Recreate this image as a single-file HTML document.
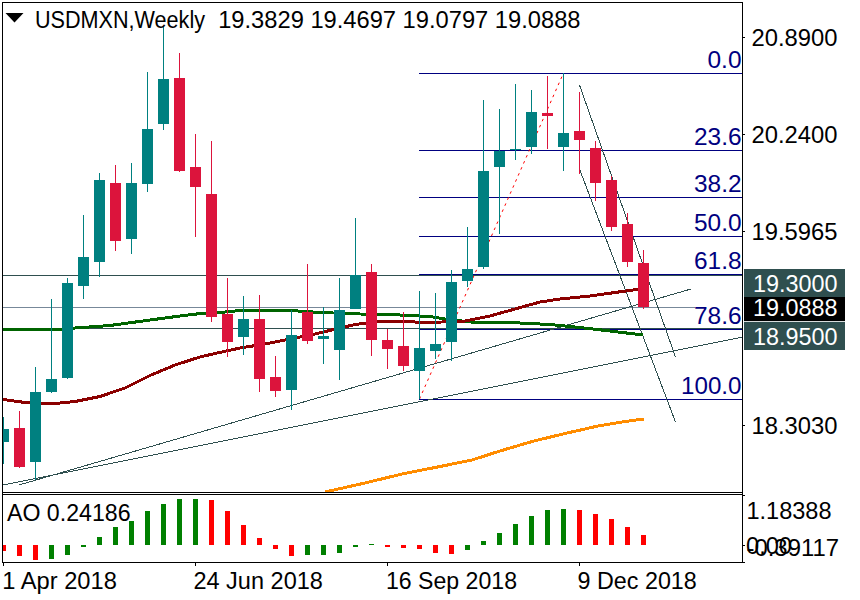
<!DOCTYPE html>
<html><head><meta charset="utf-8"><title>USDMXN Weekly</title>
<style>
html,body{margin:0;padding:0;background:#fff;}
body{width:860px;height:600px;overflow:hidden;position:relative;}
svg{position:absolute;left:0;top:0;display:block;}
text{font-family:"Liberation Sans",sans-serif;}
</style></head><body>
<svg width="860" height="600" viewBox="0 0 860 600">
<rect x="0" y="0" width="860" height="600" fill="#fff"/>
<defs><clipPath id="mc"><rect x="3" y="3" width="739" height="489"/></clipPath></defs>

<g clip-path="url(#mc)">
<g shape-rendering="crispEdges">
<rect x="3" y="275" width="739" height="1" fill="#2F4F4F"/>
<rect x="3" y="307" width="692" height="1" fill="#778899"/>
<rect x="3" y="328" width="739" height="1" fill="#2F4F4F"/>
<rect x="419" y="73" width="323" height="1" fill="#000080"/>
<rect x="419" y="150" width="323" height="1" fill="#000080"/>
<rect x="419" y="197" width="323" height="1" fill="#000080"/>
<rect x="419" y="236" width="323" height="1" fill="#000080"/>
<rect x="419" y="274" width="323" height="1" fill="#000080"/>
<rect x="419" y="329" width="323" height="1" fill="#000080"/>
<rect x="419" y="399" width="323" height="1" fill="#000080"/>
</g>
<g stroke="#2F4F4F" stroke-width="1" fill="none" shape-rendering="crispEdges">
<line x1="3" y1="485" x2="742" y2="337.3"/>
<line x1="19" y1="485" x2="691" y2="289"/>
<line x1="579.5" y1="85" x2="675.5" y2="357"/>
<line x1="579.5" y1="169" x2="675.5" y2="422"/>
</g>
<line x1="419.5" y1="399" x2="563.5" y2="73" stroke="#FF0000" stroke-width="1" stroke-dasharray="2.6,4"/>
<polyline points="325,492 365,483 402,474 440,466.5 472,460 500,451 532,441.5 565,433.5 598,426 625,421.5 644,419" fill="none" stroke="#FF8C00" stroke-width="3" stroke-linejoin="round" shape-rendering="crispEdges"/>
<polyline points="3,329.8 60,329.8 75,328 110,325.5 150,320 180,316 205,313 215,313 240,310.5 290,310.5 320,312.5 360,314 380,314.5 400,315 430,316.5 445,319 470,322 520,323 550,324.5 580,327.5 610,331 643,335" fill="none" stroke="#006400" stroke-width="3" stroke-linejoin="round" shape-rendering="crispEdges"/>
<polyline points="3,399.5 25,402.5 50,404 75,401.5 100,396.5 125,388 150,375.5 175,365 200,357 215,353.5 240,348 265,344 290,339 315,334 340,328 355,324.5 380,321.5 400,321.5 430,322.5 465,321 490,316 515,309 540,302 560,299 590,296 615,292.5 637,289.5 643,289" fill="none" stroke="#8B0000" stroke-width="3" stroke-linejoin="round" shape-rendering="crispEdges"/>
<g shape-rendering="crispEdges">
<rect x="3" y="417" width="1" height="47" fill="#008080"/>
<rect x="-2" y="429" width="11" height="13" fill="#008080"/>
<rect x="19" y="411" width="1" height="57" fill="#DC143C"/>
<rect x="14" y="428" width="11" height="39" fill="#DC143C"/>
<rect x="35" y="367" width="1" height="113" fill="#008080"/>
<rect x="30" y="392" width="11" height="70" fill="#008080"/>
<rect x="51" y="299" width="1" height="94" fill="#008080"/>
<rect x="46" y="379" width="11" height="13" fill="#008080"/>
<rect x="67" y="278" width="1" height="101" fill="#008080"/>
<rect x="62" y="283" width="11" height="95" fill="#008080"/>
<rect x="83" y="215" width="1" height="84" fill="#008080"/>
<rect x="78" y="257" width="11" height="29" fill="#008080"/>
<rect x="99" y="173" width="1" height="104" fill="#008080"/>
<rect x="94" y="180" width="11" height="82" fill="#008080"/>
<rect x="115" y="165" width="1" height="86" fill="#DC143C"/>
<rect x="110" y="183" width="11" height="58" fill="#DC143C"/>
<rect x="131" y="163" width="1" height="91" fill="#008080"/>
<rect x="126" y="183" width="11" height="56" fill="#008080"/>
<rect x="147" y="72" width="1" height="120" fill="#008080"/>
<rect x="142" y="129" width="11" height="55" fill="#008080"/>
<rect x="163" y="27" width="1" height="103" fill="#008080"/>
<rect x="158" y="79" width="11" height="45" fill="#008080"/>
<rect x="179" y="53" width="1" height="119" fill="#DC143C"/>
<rect x="174" y="78" width="11" height="93" fill="#DC143C"/>
<rect x="195" y="134" width="1" height="103" fill="#DC143C"/>
<rect x="190" y="167" width="11" height="20" fill="#DC143C"/>
<rect x="211" y="141" width="1" height="181" fill="#DC143C"/>
<rect x="206" y="194" width="11" height="123" fill="#DC143C"/>
<rect x="227" y="278" width="1" height="79" fill="#DC143C"/>
<rect x="222" y="314" width="11" height="28" fill="#DC143C"/>
<rect x="243" y="296" width="1" height="59" fill="#008080"/>
<rect x="238" y="319" width="11" height="18" fill="#008080"/>
<rect x="259" y="295" width="1" height="97" fill="#DC143C"/>
<rect x="254" y="319" width="11" height="60" fill="#DC143C"/>
<rect x="275" y="356" width="1" height="41" fill="#DC143C"/>
<rect x="270" y="377" width="11" height="14" fill="#DC143C"/>
<rect x="291" y="310" width="1" height="100" fill="#008080"/>
<rect x="286" y="335" width="11" height="55" fill="#008080"/>
<rect x="307" y="264" width="1" height="80" fill="#DC143C"/>
<rect x="302" y="312" width="11" height="29" fill="#DC143C"/>
<rect x="323" y="307" width="1" height="57" fill="#008080"/>
<rect x="318" y="336" width="11" height="3" fill="#008080"/>
<rect x="339" y="278" width="1" height="102" fill="#008080"/>
<rect x="334" y="310" width="11" height="40" fill="#008080"/>
<rect x="355" y="218" width="1" height="91" fill="#008080"/>
<rect x="350" y="275" width="11" height="34" fill="#008080"/>
<rect x="371" y="264" width="1" height="92" fill="#DC143C"/>
<rect x="366" y="272" width="11" height="68" fill="#DC143C"/>
<rect x="387" y="329" width="1" height="40" fill="#DC143C"/>
<rect x="382" y="340" width="11" height="9" fill="#DC143C"/>
<rect x="403" y="312" width="1" height="59" fill="#DC143C"/>
<rect x="398" y="346" width="11" height="20" fill="#DC143C"/>
<rect x="419" y="291" width="1" height="108" fill="#008080"/>
<rect x="414" y="348" width="11" height="23" fill="#008080"/>
<rect x="435" y="293" width="1" height="66" fill="#008080"/>
<rect x="430" y="344" width="11" height="7" fill="#008080"/>
<rect x="451" y="270" width="1" height="91" fill="#008080"/>
<rect x="446" y="282" width="11" height="60" fill="#008080"/>
<rect x="467" y="227" width="1" height="60" fill="#008080"/>
<rect x="462" y="269" width="11" height="12" fill="#008080"/>
<rect x="483" y="100" width="1" height="169" fill="#008080"/>
<rect x="478" y="171" width="11" height="96" fill="#008080"/>
<rect x="499" y="109" width="1" height="125" fill="#008080"/>
<rect x="494" y="151" width="11" height="16" fill="#008080"/>
<rect x="515" y="84" width="1" height="76" fill="#008080"/>
<rect x="510" y="149" width="11" height="1" fill="#008080"/>
<rect x="531" y="90" width="1" height="64" fill="#008080"/>
<rect x="526" y="112" width="11" height="35" fill="#008080"/>
<rect x="547" y="76" width="1" height="73" fill="#DC143C"/>
<rect x="542" y="113" width="11" height="3" fill="#DC143C"/>
<rect x="563" y="73" width="1" height="98" fill="#008080"/>
<rect x="558" y="133" width="11" height="14" fill="#008080"/>
<rect x="579" y="92" width="1" height="82" fill="#DC143C"/>
<rect x="574" y="131" width="11" height="9" fill="#DC143C"/>
<rect x="595" y="141" width="1" height="60" fill="#DC143C"/>
<rect x="590" y="148" width="11" height="35" fill="#DC143C"/>
<rect x="611" y="176" width="1" height="55" fill="#DC143C"/>
<rect x="606" y="180" width="11" height="47" fill="#DC143C"/>
<rect x="627" y="213" width="1" height="54" fill="#DC143C"/>
<rect x="622" y="224" width="11" height="38" fill="#DC143C"/>
<rect x="643" y="250" width="1" height="59" fill="#DC143C"/>
<rect x="638" y="263" width="11" height="44" fill="#DC143C"/>
</g>
</g>
<g shape-rendering="crispEdges" fill="#000">
<rect x="2" y="2" width="741" height="1"/>
<rect x="2" y="2" width="1" height="561"/>
<rect x="742" y="2" width="1" height="561"/>
<rect x="2" y="492" width="741" height="1"/>
<rect x="2" y="494" width="741" height="1"/>
<rect x="2" y="562" width="743" height="1"/>
<rect x="743" y="37" width="2" height="1"/>
<rect x="743" y="134" width="2" height="1"/>
<rect x="743" y="231" width="2" height="1"/>
<rect x="743" y="425" width="2" height="1"/>
<rect x="743" y="545" width="2" height="1"/>
<rect x="743" y="495" width="2" height="1"/>
<rect x="3" y="563" width="1" height="3"/>
<rect x="195" y="563" width="1" height="3"/>
<rect x="387" y="563" width="1" height="3"/>
<rect x="579" y="563" width="1" height="3"/>
</g>
<g shape-rendering="crispEdges">
<rect x="3" y="545" width="3" height="6" fill="#FF0000"/>
<rect x="17" y="545" width="5" height="11" fill="#FF0000"/>
<rect x="33" y="545" width="5" height="15" fill="#FF0000"/>
<rect x="49" y="545" width="5" height="14" fill="#008000"/>
<rect x="65" y="545" width="5" height="10" fill="#008000"/>
<rect x="81" y="545" width="5" height="2" fill="#008000"/>
<rect x="97" y="537" width="5" height="8" fill="#008000"/>
<rect x="113" y="527" width="5" height="18" fill="#008000"/>
<rect x="129" y="521" width="5" height="24" fill="#008000"/>
<rect x="145" y="511" width="5" height="34" fill="#008000"/>
<rect x="161" y="504" width="5" height="41" fill="#008000"/>
<rect x="177" y="499" width="5" height="46" fill="#008000"/>
<rect x="193" y="499" width="5" height="46" fill="#008000"/>
<rect x="209" y="500" width="5" height="45" fill="#FF0000"/>
<rect x="225" y="511" width="5" height="34" fill="#FF0000"/>
<rect x="241" y="525" width="5" height="20" fill="#FF0000"/>
<rect x="257" y="538" width="5" height="7" fill="#FF0000"/>
<rect x="273" y="545" width="5" height="4" fill="#FF0000"/>
<rect x="289" y="545" width="5" height="11" fill="#FF0000"/>
<rect x="305" y="545" width="5" height="10" fill="#008000"/>
<rect x="321" y="545" width="5" height="10" fill="#008000"/>
<rect x="337" y="545" width="5" height="8" fill="#008000"/>
<rect x="353" y="545" width="5" height="2" fill="#008000"/>
<rect x="369" y="544" width="5" height="1" fill="#008000"/>
<rect x="385" y="545" width="5" height="2" fill="#FF0000"/>
<rect x="401" y="545" width="5" height="3" fill="#FF0000"/>
<rect x="417" y="545" width="5" height="4" fill="#FF0000"/>
<rect x="433" y="545" width="5" height="8" fill="#FF0000"/>
<rect x="449" y="545" width="5" height="9" fill="#FF0000"/>
<rect x="465" y="545" width="5" height="5" fill="#008000"/>
<rect x="481" y="541" width="5" height="4" fill="#008000"/>
<rect x="497" y="533" width="5" height="12" fill="#008000"/>
<rect x="513" y="524" width="5" height="21" fill="#008000"/>
<rect x="529" y="516" width="5" height="29" fill="#008000"/>
<rect x="545" y="510" width="5" height="35" fill="#008000"/>
<rect x="561" y="509" width="5" height="36" fill="#008000"/>
<rect x="577" y="510" width="5" height="35" fill="#FF0000"/>
<rect x="593" y="514" width="5" height="31" fill="#FF0000"/>
<rect x="609" y="519" width="5" height="26" fill="#FF0000"/>
<rect x="625" y="527" width="5" height="18" fill="#FF0000"/>
<rect x="641" y="535" width="5" height="10" fill="#FF0000"/>
</g>
<g shape-rendering="crispEdges">
<rect x="744" y="269" width="101" height="28" fill="#2F4F4F"/>
<rect x="744" y="297" width="101" height="24" fill="#000"/>
<rect x="744" y="321" width="101" height="1" fill="#d8dcdc"/><rect x="744" y="322" width="101" height="28" fill="#2F4F4F"/>
</g>
<polygon points="5.5,13 23.5,13 14.5,22.4" fill="#000"/>
<text x="35" y="28" font-size="23" fill="#000" text-anchor="start" textLength="170" lengthAdjust="spacingAndGlyphs">USDMXN,Weekly</text>
<text x="218.2" y="28" font-size="23" fill="#000" text-anchor="start" textLength="362.3" lengthAdjust="spacingAndGlyphs">19.3829 19.4697 19.0797 19.0888</text>
<text x="751.5" y="46" font-size="23" fill="#000" text-anchor="start" textLength="86" lengthAdjust="spacingAndGlyphs">20.8900</text>
<text x="751.5" y="143" font-size="23" fill="#000" text-anchor="start" textLength="86" lengthAdjust="spacingAndGlyphs">20.2400</text>
<text x="751.5" y="240" font-size="23" fill="#000" text-anchor="start" textLength="86" lengthAdjust="spacingAndGlyphs">19.5965</text>
<text x="751.5" y="434" font-size="23" fill="#000" text-anchor="start" textLength="86" lengthAdjust="spacingAndGlyphs">18.3030</text>
<text x="753" y="292" font-size="23" fill="#fff" text-anchor="start" textLength="84.5" lengthAdjust="spacingAndGlyphs">19.3000</text>
<text x="753" y="316" font-size="23" fill="#fff" text-anchor="start" textLength="84.5" lengthAdjust="spacingAndGlyphs">19.0888</text>
<text x="753" y="345" font-size="23" fill="#fff" text-anchor="start" textLength="84.5" lengthAdjust="spacingAndGlyphs">18.9500</text>
<text x="741.5" y="68" font-size="23" fill="#000080" text-anchor="end" textLength="34" lengthAdjust="spacingAndGlyphs">0.0</text>
<text x="741.5" y="145" font-size="23" fill="#000080" text-anchor="end" textLength="47.5" lengthAdjust="spacingAndGlyphs">23.6</text>
<text x="741.5" y="192" font-size="23" fill="#000080" text-anchor="end" textLength="47.5" lengthAdjust="spacingAndGlyphs">38.2</text>
<text x="741.5" y="231" font-size="23" fill="#000080" text-anchor="end" textLength="47.5" lengthAdjust="spacingAndGlyphs">50.0</text>
<text x="741.5" y="269" font-size="23" fill="#000080" text-anchor="end" textLength="47.5" lengthAdjust="spacingAndGlyphs">61.8</text>
<text x="741.5" y="324" font-size="23" fill="#000080" text-anchor="end" textLength="47.5" lengthAdjust="spacingAndGlyphs">78.6</text>
<text x="741.5" y="394" font-size="23" fill="#000080" text-anchor="end" textLength="60.5" lengthAdjust="spacingAndGlyphs">100.0</text>
<text x="7" y="521" font-size="23" fill="#000" text-anchor="start" textLength="123.5" lengthAdjust="spacingAndGlyphs">AO 0.24186</text>
<text x="746.5" y="519" font-size="23" fill="#000" text-anchor="start" textLength="85" lengthAdjust="spacingAndGlyphs">1.18388</text>
<text x="746" y="554" font-size="23" fill="#000" text-anchor="start" textLength="46" lengthAdjust="spacingAndGlyphs">0.00</text>
<text x="746.5" y="556" font-size="23" fill="#000" text-anchor="start" textLength="92.5" lengthAdjust="spacingAndGlyphs">-0.39117</text>
<text x="2.3" y="589" font-size="23" fill="#000" text-anchor="start" textLength="114.5" lengthAdjust="spacingAndGlyphs">1 Apr 2018</text>
<text x="193.4" y="589" font-size="23" fill="#000" text-anchor="start" textLength="129.5" lengthAdjust="spacingAndGlyphs">24 Jun 2018</text>
<text x="386" y="589" font-size="23" fill="#000" text-anchor="start" textLength="131" lengthAdjust="spacingAndGlyphs">16 Sep 2018</text>
<text x="577.6" y="589" font-size="23" fill="#000" text-anchor="start" textLength="119.2" lengthAdjust="spacingAndGlyphs">9 Dec 2018</text>
</svg></body></html>
